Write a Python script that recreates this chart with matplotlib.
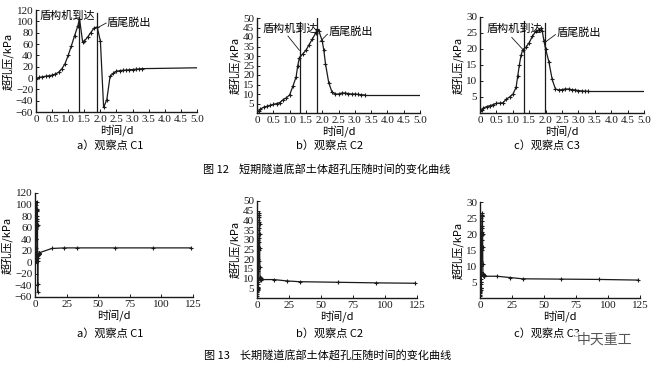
import matplotlib
matplotlib.use("Agg")
import matplotlib.pyplot as plt

plt.rcParams["font.family"] = ["Liberation Serif", "Noto Sans CJK SC"]
plt.rcParams["font.size"] = 8

INK = "#1a1a1a"
CJK = ["Noto Sans CJK SC", "Liberation Serif"]

# ---------------------------------------------------------------- data -----
# short-term (0 - 3.3 d), observation points C1 / C2 / C3
t1 = [0, 0.1, 0.2, 0.3, 0.4, 0.5, 0.6, 0.7, 0.8, 0.9, 1.0, 1.1, 1.2, 1.3, 1.35,
      1.45, 1.5, 1.6, 1.7, 1.8, 1.9, 2.0, 2.1, 2.2, 2.3, 2.4, 2.5, 2.6, 2.7, 2.8,
      2.9, 3.0, 3.1, 3.2, 3.3]
p1 = [-2, 1, 2, 3, 4, 5, 7, 10, 16, 25, 40, 57, 75, 92, 105,
      63, 65, 72, 80, 88, 90, 65, -52, -38, 3, 8, 12, 13, 13.5, 14,
      14.5, 15, 15.5, 16, 16.5]

t2 = [0, 0.05, 0.1, 0.2, 0.3, 0.4, 0.5, 0.6, 0.7, 0.8, 0.9, 1.0, 1.1, 1.2, 1.25,
      1.3, 1.4, 1.5, 1.6, 1.7, 1.8, 1.85, 1.9, 2.0, 2.05, 2.1, 2.2, 2.3, 2.4,
      2.5, 2.6, 2.7, 2.8, 2.9, 3.0, 3.1, 3.2, 3.3]
p2 = [0, 1, 2, 3, 3.5, 4, 4.5, 5, 5.5, 7, 8, 9.5, 14, 19, 25,
      29, 31, 33, 36, 39, 42, 44, 43, 38, 33, 26, 16, 11, 10,
      10, 10.5, 10.5, 10.2, 10, 10, 9.8, 9.6, 9.5]

t3 = [0, 0.05, 0.1, 0.2, 0.3, 0.4, 0.5, 0.6, 0.7, 0.8, 0.9, 1.0, 1.1, 1.15, 1.2,
      1.25, 1.3, 1.4, 1.5, 1.6, 1.7, 1.8, 1.85, 1.9, 1.95, 2.0, 2.1, 2.2, 2.3,
      2.4, 2.5, 2.6, 2.7, 2.8, 2.9, 3.0, 3.1, 3.2, 3.3]
p3 = [0.5, 1, 1.5, 2, 2.3, 2.6, 3, 3.1, 3.2, 4.3, 5, 5.8, 8, 11.5, 15,
      18, 19.7, 20.5, 22, 24, 25.5, 26, 26.5, 25.5, 22.5, 20, 16, 10.5, 7.5,
      7.2, 7.3, 7.5, 7.5, 7.3, 7.2, 7.0, 6.9, 6.8, 6.8]

# steady value carried to the end of the short-term window (5 d)
t_end = 5.0
p_end = [18, 9.5, 6.8]

# long-term readings (days)
t_long = [13.3, 23.3, 33.3, 63.3, 93.3, 123.3]
p1_long = [24, 25, 25, 25, 25, 25]
p2_long = [9.5, 8.8, 8.4, 8.1, 7.8, 7.6]
p3_long = [6.8, 6.4, 6.0, 5.9, 5.8, 5.6]

# shield arrival / tail release times (d)
arrive = [1.33, 1.32, 1.34]
release = [1.90, 1.85, 1.97]

short_xticks = [0, 0.5, 1.0, 1.5, 2.0, 2.5, 3.0, 3.5, 4.0, 4.5, 5.0]
short_xlabels = ["0", "0.5", "1.0", "1.5", "2.0", "2.5", "3.0", "3.5", "4.0", "4.5", "5.0"]
long_xticks = [0, 25, 50, 75, 100, 125]
yticks = [list(range(-60, 121, 20)), list(range(5, 51, 5)), list(range(5, 31, 5))]
ylims = [(-60, 120), (0, 50), (0, 30)]
sub_caps = ["a）观察点 C1", "b）观察点 C2", "c）观察点 C3"]

fig = plt.figure(figsize=(6.58, 3.66), dpi=100)

W, H = 658, 366


def px_axes(x0, y0, x1, y1):
    return fig.add_axes([x0 / W, 1 - y1 / H, (x1 - x0) / W, (y1 - y0) / H])


def style(ax):
    for s in ("top", "right"):
        ax.spines[s].set_visible(False)
    for s in ("left", "bottom"):
        ax.spines[s].set_color(INK)
        ax.spines[s].set_linewidth(1.0)
    ax.tick_params(direction="in", length=2.5, width=0.7, labelsize=8, pad=2, colors=INK)
    ax.set_ylabel("超孔压/kPa", fontsize=8, family=CJK, labelpad=1.5)
    ax.set_xlabel("时间/d", fontsize=8, family=CJK, labelpad=0)


def curve(ax, t, p):
    ax.plot(t, p, color=INK, lw=0.9, marker="+", ms=3, mew=0.8, zorder=3)


top_boxes = [(36, 10, 197, 112), (257, 18, 420, 113), (480, 17, 644, 113)]
bot_boxes = [(35, 193, 193, 297), (257, 201, 417, 298), (480, 202, 640, 298)]
shorts = [(t1, p1), (t2, p2), (t3, p3)]
longs = [p1_long, p2_long, p3_long]

# annotation positions: (text x, text y, leader start, leader end)
ann_arrive = [None, ((0.18, 44.2), (0.95, 40.5), (1.30, 33)), ((0.2, 26.3), (0.97, 23.6), (1.32, 19.7))]
ann_release = [((2.2, 98), (2.18, 97), (1.92, 89)), ((2.18, 42.6), (2.16, 41.5), (1.93, 37.5)),
               ((2.32, 25.2), (2.30, 24.5), (2.01, 22.3))]
vtop = [(108, 114), (48, 50), (28.8, 28.2)]

for i in range(3):
    ax = px_axes(*top_boxes[i])
    t, p = shorts[i]
    curve(ax, t, p)
    ax.plot([t[-1], t_end], [p[-1], p_end[i]], color=INK, lw=0.9, zorder=3)
    lo = ylims[i][0]
    ax.plot([arrive[i]] * 2, [lo, vtop[i][0]], color=INK, lw=0.9)
    ax.plot([release[i]] * 2, [lo, vtop[i][1]], color=INK, lw=0.9)
    if i == 0:
        ax.text(0.12, 110, "盾构机到达", family=CJK, fontsize=8, va="center", ha="left")
    else:
        (tx, ty), s, e = ann_arrive[i]
        ax.text(tx, ty, "盾构机到达", family=CJK, fontsize=8, va="center", ha="left")
        ax.plot([s[0], e[0]], [s[1], e[1]], color=INK, lw=0.6)
    (tx, ty), s, e = ann_release[i]
    ax.text(tx, ty, "盾尾脱出", family=CJK, fontsize=8, va="center", ha="left")
    ax.plot([s[0], e[0]], [s[1], e[1]], color=INK, lw=0.6)
    ax.set_xlim(0, 5.0)
    ax.set_ylim(*ylims[i])
    ax.set_xticks(short_xticks)
    ax.set_xticklabels(short_xlabels)
    ax.set_yticks(yticks[i])
    style(ax)

for i in range(3):
    ax = px_axes(*bot_boxes[i])
    t, p = shorts[i]
    curve(ax, list(t) + t_long, list(p) + longs[i])
    ax.set_xlim(0, 125)
    ax.set_ylim(*ylims[i])
    ax.set_xticks(long_xticks)
    ax.set_yticks(yticks[i])
    style(ax)

cap_x = [110, 330, 547]
for i in range(3):
    fig.text(cap_x[i] / W, 1 - 145 / H, sub_caps[i], family=CJK, fontsize=8,
             ha="center", va="center")
    fig.text(cap_x[i] / W, 1 - 333 / H, sub_caps[i], family=CJK, fontsize=8,
             ha="center", va="center")

fig.text(327 / W, 1 - 170 / H, "图 12    短期隧道底部土体超孔压随时间的变化曲线", family=CJK,
         fontsize=8, ha="center", va="center")
fig.text(328 / W, 1 - 356 / H, "图 13    长期隧道底部土体超孔压随时间的变化曲线", family=CJK,
         fontsize=8, ha="center", va="center")

# watermark
fig.text(604 / W, 1 - 340 / H, "中天重工", family=CJK, fontsize=10, color="#555555",
         ha="center", va="center",
         bbox=dict(boxstyle="square,pad=0.1", fc="white", ec="none", alpha=0.7))

fig.savefig("out.png", dpi=100)
